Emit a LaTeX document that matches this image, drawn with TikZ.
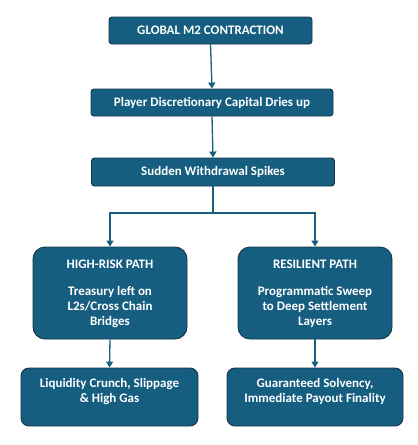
\documentclass[tikz,border=0pt]{standalone}
\usepackage{fontspec}
\setmainfont{Carlito}
\usetikzlibrary{arrows.meta}
\definecolor{boxfill}{RGB}{22,94,128}
\definecolor{boxedge}{RGB}{24,52,70}
\definecolor{linec}{RGB}{22,94,128}
\begin{document}
\begin{tikzpicture}[x=1pt,y=-1pt,
  box/.style={draw=boxedge,line width=0.9pt,fill=boxfill,text=white,font=\bfseries\fontsize{13}{15}\selectfont,align=center,inner sep=0pt},
  txt/.style={text=white,font=\bfseries\fontsize{13}{15}\selectfont,align=center,inner sep=0pt},
  conn/.style={draw=linec,line width=1.3pt,-{Triangle[width=7pt,length=6pt]}},
  plain/.style={draw=linec,line width=1.3pt}]
\useasboundingbox (0,0) rectangle (418,445);
\node[box,rounded corners=3pt,minimum width=203pt,minimum height=27pt] (b1) at (210.5,30.5) {GLOBAL M2 CONTRACTION};
\node[box,rounded corners=3pt,minimum width=242pt,minimum height=27pt] (b2) at (212,102.5) {Player Discretionary Capital Dries up};
\node[box,rounded corners=3pt,minimum width=243pt,minimum height=28pt] (b3) at (213,172) {Sudden Withdrawal Spikes};
\node[box,rounded corners=12pt,minimum width=154pt,minimum height=92pt] (l) at (110,293) {};
\node[box,rounded corners=12pt,minimum width=154pt,minimum height=92pt] (r) at (315,293) {};
\node[box,rounded corners=8pt,minimum width=177pt,minimum height=58pt] (bl) at (109.5,397) {};
\node[box,rounded corners=8pt,minimum width=176pt,minimum height=58pt] (br) at (315,397) {};
\node[txt] (lt) at (110,264) {HIGH-RISK PATH};
\node[txt] (lb) at (110,307) {Treasury left on\\L2s/Cross Chain\\Bridges};
\node[txt] (rt) at (315,264) {RESILIENT PATH};
\node[txt] (rb) at (315,307) {Programmatic Sweep\\to Deep Settlement\\Layers};
\node[txt] (blt) at (109.5,391.5) {Liquidity Crunch, Slippage\\\& High Gas};
\node[txt] (brt) at (315,391.5) {Guaranteed Solvency,\\Immediate Payout Finality};
\coordinate (split) at (213,213);
\draw[conn] (b1.south) -- (b2.north);
\draw[conn] (b2.south) -- (b3.north);
\draw[plain] (b3.south) -- (split);
\draw[conn] (split) -| (l.north);
\draw[conn] (split) -| (r.north);
\draw[conn] (l.south) -- (bl.north);
\draw[conn] (r.south) -- (br.north);
\end{tikzpicture}
\end{document}
